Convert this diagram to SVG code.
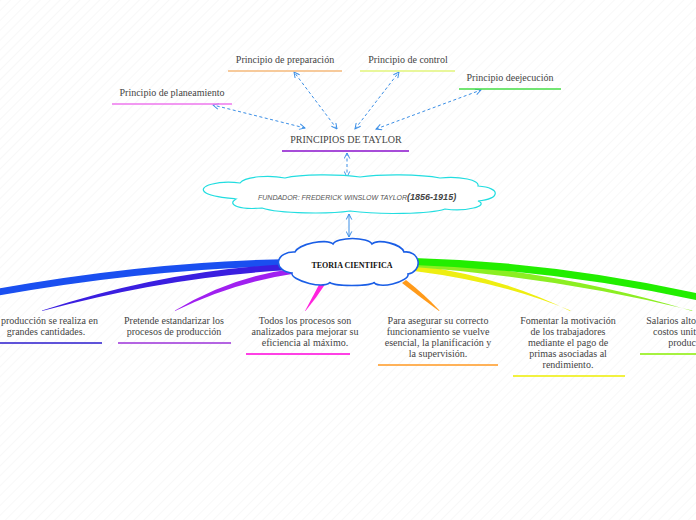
<svg xmlns="http://www.w3.org/2000/svg" width="696" height="520" viewBox="0 0 696 520">
<defs>
<pattern id="bg" width="7" height="7" patternUnits="userSpaceOnUse" patternTransform="rotate(45)">
<line x1="0" y1="0" x2="0" y2="7" stroke="#f1f1f1" stroke-width="1"/>
</pattern>
<marker id="ah" viewBox="0 0 10 10" refX="9" refY="5" markerWidth="7" markerHeight="7" orient="auto-start-reverse" markerUnits="userSpaceOnUse">
<path d="M1,1 L9,5 L1,9" fill="none" stroke="#3a8ee6" stroke-width="1.4"/>
</marker>
</defs>
<style>
.t{font-family:"Liberation Serif","Times New Roman",serif;font-size:10px;fill:#444;text-anchor:middle}
.ts{font-family:"Liberation Serif","Times New Roman",serif;font-size:10px;fill:#444}
.te{font-family:"Liberation Serif","Times New Roman",serif;font-size:10px;fill:#444;text-anchor:end}
.ul{stroke-width:1.3;fill:none}
.dc{stroke:#3a8ee6;stroke-width:1;stroke-dasharray:3,2.5;fill:none;marker-start:url(#ah);marker-end:url(#ah)}
.sc{stroke:#3a8ee6;stroke-width:1;fill:none;marker-start:url(#ah);marker-end:url(#ah)}
</style>
<rect width="696" height="520" fill="#fff"/>
<rect width="696" height="520" fill="url(#bg)"/>

<g id="connectors">
<path class="dc" d="M305,128 L213,105"/>
<path class="dc" d="M337,129 L294,72"/>
<path class="dc" d="M355,129 L399,72"/>
<path class="dc" d="M376,129 L481,90"/>
<path class="dc" d="M347,153 L347,177"/>
<path class="sc" d="M349,214 L349,237"/>
<!-- branches -->
<path fill="#1a4ff0" d="M292,259 Q150,261 -10,290 L-10,297 Q150,268 292,266 Z"/>
<path fill="#3a1ee0" d="M292,264 Q170,269 42,310.5 L42,311 Q172,276 292,270 Z"/>
<path fill="#a020f0" d="M292,269 Q230,277 175,310.5 L175,311 Q232,283 292,274 Z"/>
<path fill="#ff22dd" d="M321,281 Q313,296 305,311 L305.5,311 Q317,297 326,283 Z"/>
<path fill="#ff9a1a" d="M402,283 Q420,297 439,311 L439.5,310.5 Q424,294 406,280 Z"/>
<path fill="#eeee11" d="M414,265 Q500,276 570,311 L570.5,310.5 Q502,282 414,271 Z"/>
<path fill="#8cee22" d="M414,261 Q560,271 692,311 L692.5,310.5 Q562,278 414,267 Z"/>
<path fill="#22ee00" d="M414,258 Q560,262 710,296 L710,303 Q560,270 414,265 Z"/>
</g>

<g id="n-preparacion">
<text class="t" x="285" y="63">Principio de preparación</text>
<line class="ul" x1="228" y1="71" x2="342" y2="71" stroke="#f5b97a"/>
</g>
<g id="n-control">
<text class="t" x="408" y="63">Principio de control</text>
<line class="ul" x1="360" y1="71" x2="455" y2="71" stroke="#e2f57a"/>
</g>
<g id="n-ejecucion">
<text class="t" x="510" y="81">Principio deejecución</text>
<line class="ul" x1="459" y1="89" x2="561" y2="89" stroke="#44dd44"/>
</g>
<g id="n-planeamiento">
<text class="t" x="172" y="96">Principio de planeamiento</text>
<line class="ul" x1="112" y1="104" x2="232" y2="104" stroke="#ee77ee"/>
</g>
<g id="n-principios">
<text class="t" x="346" y="143">PRINCIPIOS DE TAYLOR</text>
<line class="ul" x1="282" y1="151" x2="409" y2="151" stroke="#8a10cc"/>
</g>

<g id="n-fundador">
<path d="M240,183 C220,180 195,186 206,193 C212,197 228,198 236,199 C226,205 240,210 262,208 C280,214 330,214 350,211 C380,215 430,214 445,209 C465,212 490,206 478,201 C500,199 502,188 478,186 C480,180 460,176 440,178 C420,174 380,174 360,177 C340,174 300,174 285,178 C270,175 245,176 240,183 Z" fill="#fff" stroke="#22dde0" stroke-width="1.2"/>
<text x="258" y="200" font-family="'Liberation Sans',Arial,sans-serif" font-style="italic" fill="#555" font-size="7">FUNDADOR: FREDERICK WINSLOW TAYLOR<tspan font-size="9" font-weight="bold" fill="#444">(1856-1915)</tspan></text>
</g>

<g id="n-teoria">
<path d="M295,252 A20,7 -12 0 1 333,244 A20,7 0 0 1 372,244 A17,7 14 0 1 404,252 A12,11 0 0 1 408,274 A17,6 -13 0 1 374,282 A22,3.5 0 0 1 330,282 A19,6 13 0 1 292,273 A15,10.5 0 0 1 295,252 Z" fill="#fff" stroke="#1a5ee6" stroke-width="1.6"/>
<text x="352" y="268" font-family="'Liberation Serif','Times New Roman',serif" font-weight="bold" font-size="8" fill="#111" text-anchor="middle">TEORIA CIENTIFICA</text>
</g>

<g id="n-produccion">
<text class="ts" x="1" y="324">producción se realiza en</text>
<text class="t" x="46" y="335">grandes cantidades.</text>
<line class="ul" x1="0" y1="343" x2="102" y2="343" stroke="#2a1acc"/>
</g>
<g id="n-pretende">
<text class="t" x="174" y="324">Pretende estandarizar los</text>
<text class="t" x="174" y="335">procesos de producción</text>
<line class="ul" x1="118" y1="343" x2="231" y2="343" stroke="#9b30d9"/>
</g>
<g id="n-todos">
<text class="t" x="305" y="324">Todos los procesos son</text>
<text class="t" x="305" y="335">analizados para mejorar su</text>
<text class="t" x="305" y="346">eficiencia al máximo.</text>
<line class="ul" x1="246" y1="354" x2="350" y2="354" stroke="#ff00dd"/>
</g>
<g id="n-asegurar">
<text class="t" x="438" y="324">Para asegurar su correcto</text>
<text class="t" x="438" y="335">funcionamiento se vuelve</text>
<text class="t" x="438" y="346">esencial, la planificación y</text>
<text class="t" x="438" y="357">la supervisión.</text>
<line class="ul" x1="378" y1="365" x2="498" y2="365" stroke="#ff9922"/>
</g>
<g id="n-fomentar">
<text class="t" x="568" y="324">Fomentar la motivación</text>
<text class="t" x="568" y="335">de los trabajadores</text>
<text class="t" x="568" y="346">mediante el pago de</text>
<text class="t" x="568" y="357">primas asociadas al</text>
<text class="t" x="568" y="368">rendimiento.</text>
<line class="ul" x1="513" y1="376" x2="625" y2="376" stroke="#eeee00"/>
</g>
<g id="n-salarios">
<text class="te" x="696" y="324">Salarios alto</text>
<text class="te" x="696" y="335">costos unit</text>
<text class="te" x="696" y="346">produc</text>
<line class="ul" x1="640" y1="354" x2="696" y2="354" stroke="#88ee00"/>
</g>
</svg>
